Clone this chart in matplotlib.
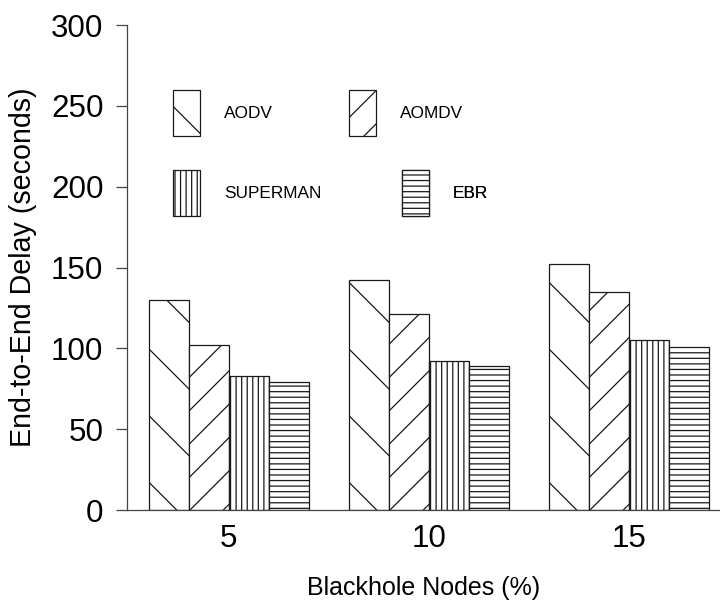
import matplotlib.pyplot as plt
import numpy as np

# valores (atraso fim-a-fim, segundos)
categorias = ['5', '10', '15']
protocolos = ['AODV', 'AOMDV', 'SUPERMAN', 'EBR']
aodv = [130, 142, 152]
aomdv = [102, 121, 135]
superman = [83, 92, 105]
ebr = [79, 89, 101]
yticks = [0, 50, 100, 150, 200, 250, 300]

series = [aodv, aomdv, superman, ebr]
hatches = ['\\', '//', '||||||', '------']

plt.rcParams['font.family'] = ['Liberation Sans', 'DejaVu Sans']
plt.rcParams['hatch.linewidth'] = 0.45
plt.rcParams['hatch.color'] = '#1a1a1a'

fig = plt.figure(figsize=(3.6, 3.02), dpi=200)
ax = fig.add_axes([0.1764, 0.1556, 0.8236, 0.803])

x = np.arange(len(categorias))
w = 0.2
barras = []
for i, (vals, h) in enumerate(zip(series, hatches)):
    b = ax.bar(x + (i - 1.5) * w, vals, w, color='white', edgecolor='#1a1a1a',
               linewidth=0.45, hatch=h, label=protocolos[i])
    barras.append(b)

ax.set_xlim(-0.51, 2.457)
ax.set_ylim(0, 300)
ax.set_yticks(yticks)
ax.set_xticks(x)
ax.set_xticklabels(categorias)
ax.tick_params(axis='y', length=4, width=0.45, pad=4.5, labelsize=11.3, color='#444444')
ax.tick_params(axis='x', length=0, pad=5, labelsize=11.3)
for s in ['top', 'right']:
    ax.spines[s].set_visible(False)
for s in ['left', 'bottom']:
    ax.spines[s].set_linewidth(0.45)
    ax.spines[s].set_color('#444444')

ax.set_ylabel('End-to-End Delay (seconds)', fontsize=10.3, labelpad=5)
ax.set_xlabel('Blackhole Nodes (%)', fontsize=9, labelpad=8)

# legenda: quatro entradas posicionadas separadamente (em pixels da figura)
posicoes = [(173, 90), (349, 90), (173, 170), (402, 170)]
x0, y0 = 127, 510
aw, ah = 593, 485
for b, nome, (px, py) in zip(barras, protocolos, posicoes):
    leg = ax.legend([b], [nome], loc='upper left',
                    bbox_to_anchor=((px - x0) / aw, (y0 - py) / ah),
                    frameon=False, fontsize=6.2, borderpad=0, borderaxespad=0,
                    handlelength=1.56, handleheight=3.72, handletextpad=1.4)
    ax.add_artist(leg)

fig.savefig('out.png', dpi=200)
